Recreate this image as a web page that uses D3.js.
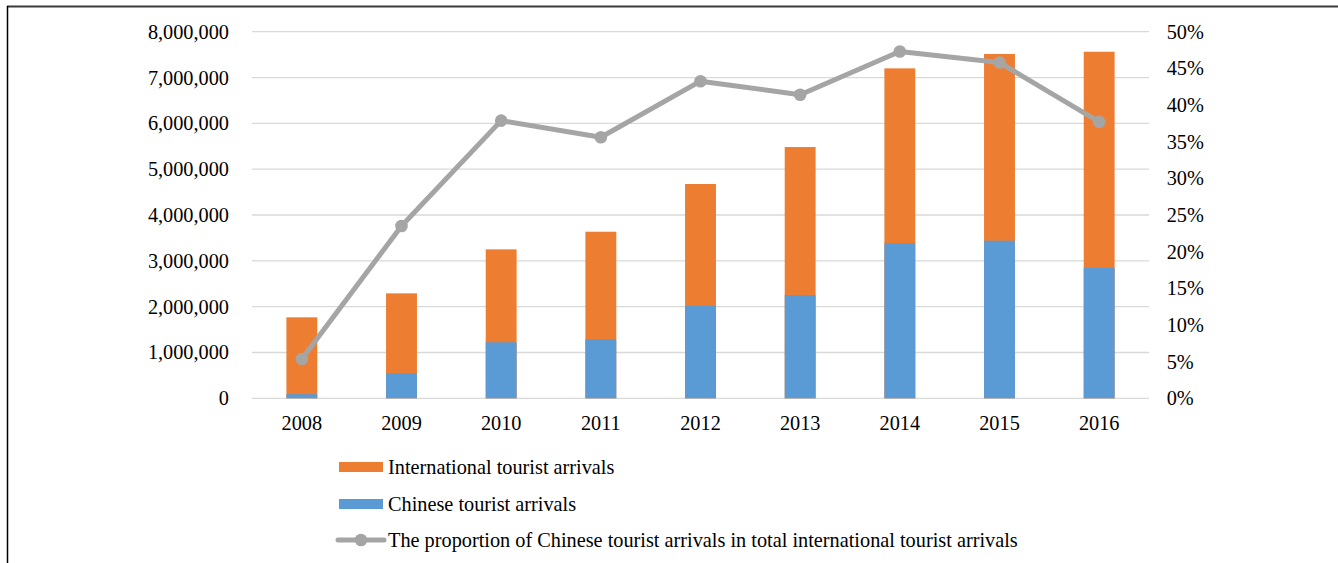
<!DOCTYPE html>
<html>
<head>
<meta charset="utf-8">
<script src="https://cdn.jsdelivr.net/npm/d3@7"></script>
<style>
  html, body { margin: 0; padding: 0; background: #fff; }
  svg { display: block; }
  text { font-family: "Liberation Serif", "Times New Roman", serif; fill: #000; }
</style>
</head>
<body>
<svg id="chart" width="1338" height="563"></svg>
<script>
const years = ["2008","2009","2010","2011","2012","2013","2014","2015","2016"];
const internationalArrivals = [1767000, 2290000, 3250000, 3635000, 4676000, 5483000, 7200000, 7513000, 7563000];
const chineseArrivals = [90000, 545000, 1222000, 1287000, 2020000, 2254000, 3389000, 3439000, 2850000];
const chineseShare = [0.0536, 0.235, 0.3787, 0.356, 0.4325, 0.414, 0.473, 0.458, 0.377];
const leftTicks = [0, 1000000, 2000000, 3000000, 4000000, 5000000, 6000000, 7000000, 8000000];
const rightTicks = [0, 0.05, 0.10, 0.15, 0.20, 0.25, 0.30, 0.35, 0.40, 0.45, 0.50];
const legendLabels = ["International tourist arrivals", "Chinese tourist arrivals",
  "The proportion of Chinese tourist arrivals in total international tourist arrivals"];

const colors = { intl: "#ED7D31", chinese: "#5B9BD5", line: "#A5A5A5", grid: "#D9D9D9" };
const fontSize = "20.3px";

const svg = d3.select("#chart");
const plot = { left: 252, right: 1149, top: 31.7, bottom: 398.3 };

// Border frame
svg.append("line").attr("x1", 7).attr("x2", 1338).attr("y1", 6.5).attr("y2", 6.5)
  .attr("stroke", "#3a3a3a").attr("stroke-width", 2);
svg.append("line").attr("x1", 7.5).attr("x2", 7.5).attr("y1", 6).attr("y2", 563)
  .attr("stroke", "#000").attr("stroke-width", 1.5);

const x = d3.scaleBand().domain(years).range([plot.left, plot.right])
  .paddingInner(0.69).paddingOuter(0.345);
const y = d3.scaleLinear().domain([0, 8000000]).range([plot.bottom, plot.top]);
const y2 = d3.scaleLinear().domain([0, 0.5]).range([plot.bottom, plot.top]);

// Gridlines
svg.append("g").selectAll("line").data(leftTicks).join("line")
  .attr("x1", plot.left).attr("x2", plot.right)
  .attr("y1", d => y(d)).attr("y2", d => y(d))
  .attr("stroke", colors.grid).attr("stroke-width", 1.3);

// Left axis
const leftAxis = d3.axisLeft(y).tickValues(leftTicks).tickFormat(d3.format(",")).tickSize(0).tickPadding(23);
const gl = svg.append("g").attr("transform", `translate(${plot.left},0)`).call(leftAxis);
gl.select(".domain").remove();
gl.selectAll("text").style("font-size", fontSize).style("font-family", "Liberation Serif").attr("fill", "#000");

// Right axis
const rightAxis = d3.axisRight(y2).tickValues(rightTicks).tickFormat(d3.format(".0%")).tickSize(0).tickPadding(17.7);
const gr = svg.append("g").attr("transform", `translate(${plot.right},0)`).call(rightAxis);
gr.select(".domain").remove();
gr.selectAll("text").style("font-size", fontSize).style("font-family", "Liberation Serif").attr("fill", "#000");

// Bottom axis
const bottomAxis = d3.axisBottom(x).tickSize(0).tickPadding(17);
const gb = svg.append("g").attr("transform", `translate(0,${plot.bottom})`).call(bottomAxis);
gb.select(".domain").remove();
gb.selectAll("text").style("font-size", fontSize).style("font-family", "Liberation Serif").attr("fill", "#000");

// Bars
const barData = years.map((yr, i) => ({ yr, intl: internationalArrivals[i], cn: chineseArrivals[i] }));
svg.append("g").selectAll("rect").data(barData).join("rect")
  .attr("x", d => x(d.yr)).attr("width", x.bandwidth())
  .attr("y", d => y(d.intl)).attr("height", d => y(0) - y(d.intl))
  .attr("fill", colors.intl);
svg.append("g").selectAll("rect").data(barData).join("rect")
  .attr("x", d => x(d.yr)).attr("width", x.bandwidth())
  .attr("y", d => y(d.cn)).attr("height", d => y(0) - y(d.cn))
  .attr("fill", colors.chinese);

// Line
const lineData = years.map((yr, i) => ({ yr, v: chineseShare[i] }));
const line = d3.line().x(d => x(d.yr) + x.bandwidth() / 2).y(d => y2(d.v));
svg.append("path").datum(lineData).attr("d", line)
  .attr("fill", "none").attr("stroke", colors.line).attr("stroke-width", 5)
  .attr("stroke-linejoin", "round").attr("stroke-linecap", "round");
svg.append("g").selectAll("circle").data(lineData).join("circle")
  .attr("cx", d => x(d.yr) + x.bandwidth() / 2).attr("cy", d => y2(d.v))
  .attr("r", 6.3).attr("fill", colors.line);

// Legend
const legendY = [467, 504, 540];
const lg = svg.append("g");
[colors.intl, colors.chinese].forEach((c, i) => {
  lg.append("rect").attr("x", 339).attr("y", legendY[i] - 5).attr("width", 44).attr("height", 10).attr("fill", c);
});
lg.append("line").attr("x1", 338).attr("x2", 384).attr("y1", legendY[2]).attr("y2", legendY[2])
  .attr("stroke", colors.line).attr("stroke-width", 5).attr("stroke-linecap", "round");
lg.append("circle").attr("cx", 361).attr("cy", legendY[2]).attr("r", 6.3).attr("fill", colors.line);
legendLabels.forEach((t, i) => {
  lg.append("text").attr("x", 388).attr("y", legendY[i]).attr("dy", "0.35em")
    .style("font-size", fontSize).text(t);
});
</script>
</body>
</html>
